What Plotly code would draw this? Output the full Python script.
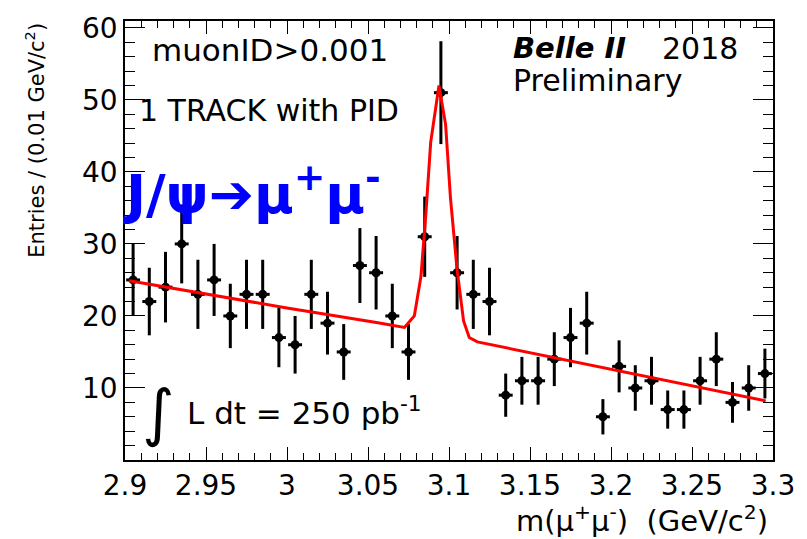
import plotly.graph_objects as go

# Bin centres (GeV/c^2), 0.01 GeV bins
mass = [2.905, 2.915, 2.925, 2.935, 2.945, 2.955, 2.965, 2.975, 2.985, 2.995,
        3.005, 3.015, 3.025, 3.035, 3.045, 3.055, 3.065, 3.075, 3.085, 3.095,
        3.105, 3.115, 3.125, 3.135, 3.145, 3.155, 3.165, 3.175, 3.185, 3.195,
        3.205, 3.215, 3.225, 3.235, 3.245, 3.255, 3.265, 3.275, 3.285, 3.295]
entries = [25, 22, 24, 30, 23, 25, 20, 23, 23, 17,
           16, 23, 19, 15, 27, 26, 20, 15, 31, 51,
           26, 23, 22, 9, 11, 11, 14, 17, 19, 6,
           13, 10, 11, 7, 7, 11, 14, 8, 10, 12]
errors = [5.0, 4.69, 4.90, 5.48, 4.80, 5.0, 4.47, 4.80, 4.80, 4.12,
          4.0, 4.80, 4.36, 3.87, 5.20, 5.10, 4.47, 3.87, 5.57, 7.14,
          5.10, 4.80, 4.69, 3.0, 3.32, 3.32, 3.74, 4.12, 4.36, 2.45,
          3.61, 3.16, 3.32, 2.65, 2.65, 3.32, 3.74, 2.83, 3.16, 3.46]
half_bin = [0.0043] * len(mass)

# Fit curve vertices
fit_x = [2.9026, 3.000, 3.0552, 3.0725, 3.0786, 3.0827, 3.0857, 3.0887, 3.0938,
         3.0979, 3.1009, 3.1050, 3.1090, 3.1125, 3.1175, 3.2955]
fit_y = [24.9, 21.1, 19.1, 18.4, 20.0, 25.5, 34.1, 44.1, 52.0,
         46.6, 36.4, 26.4, 19.3, 17.0, 16.4, 8.2]

x_tickvals = [2.9, 2.95, 3.0, 3.05, 3.1, 3.15, 3.2, 3.25, 3.3]
x_ticktext = ["2.9", "2.95", "3", "3.05", "3.1", "3.15", "3.2", "3.25", "3.3"]
y_tickvals = [0, 10, 20, 30, 40, 50, 60]
y_ticktext = ["", "10", "20", "30", "40", "50", "60"]

FONT = "DejaVu Sans"

fig = go.Figure()
fig.add_trace(go.Scatter(
    x=mass, y=entries, mode="markers",
    marker=dict(symbol="circle", size=9, color="black"),
    error_y=dict(type="data", array=errors, visible=True, color="black", thickness=3, width=0),
    error_x=dict(type="data", array=half_bin, visible=True, color="black", thickness=3, width=0),
    showlegend=False, hoverinfo="x+y"))
fig.add_trace(go.Scatter(
    x=fit_x, y=fit_y, mode="lines",
    line=dict(color="#ff0000", width=3),
    showlegend=False))

axis_common = dict(showline=True, linecolor="black", linewidth=1.5, mirror="allticks",
                   ticks="inside", tickcolor="black", showgrid=False, zeroline=False,
                   tickfont=dict(family=FONT, size=28, color="black"))

fig.update_xaxes(range=[2.9, 3.3], tickmode="array", tickvals=x_tickvals, ticktext=x_ticktext,
                 ticklen=13, tickwidth=1.2,
                 minor=dict(tickmode="linear", tick0=2.9, dtick=0.01, ticks="inside",
                            ticklen=7, tickcolor="black", tickwidth=1.2),
                 **axis_common)
fig.update_yaxes(range=[0, 60.95], tickmode="array", tickvals=y_tickvals, ticktext=y_ticktext,
                 ticklen=20, tickwidth=1.2,
                 minor=dict(tickmode="linear", tick0=0, dtick=2, ticks="inside",
                            ticklen=10, tickcolor="black", tickwidth=1.2),
                 **axis_common)

def px_x(p):
    return (p - 125) / 657.0

def px_y(p):
    return (460 - p) / 447.0

ann = []
ann.append(dict(text="muonID>0.001", x=px_x(150), y=px_y(43), xanchor="left", yanchor="middle",
                font=dict(family=FONT, size=31, color="black")))
ann.append(dict(text="1 TRACK with PID", x=px_x(137), y=px_y(104), xanchor="left", yanchor="middle",
                font=dict(family=FONT, size=30, color="black")))
ann.append(dict(text="<b>J/ψ➔μ<sup>+</sup>μ<sup>-</sup></b>", x=px_x(120), y=px_y(186),
                xanchor="left", yanchor="middle",
                font=dict(family=FONT, size=54, color="#0000ff")))
ann.append(dict(text="<b><i>Belle II</i></b>", x=px_x(516), y=px_y(41), xanchor="left", yanchor="middle",
                font=dict(family=FONT, size=29, color="black")))
ann.append(dict(text="2018", x=px_x(667), y=px_y(41), xanchor="left", yanchor="middle",
                font=dict(family=FONT, size=30, color="black")))
ann.append(dict(text="Preliminary", x=px_x(516), y=px_y(74), xanchor="left", yanchor="middle",
                font=dict(family=FONT, size=30, color="black")))
ann.append(dict(text="∫", x=px_x(158), y=px_y(412), xanchor="center", yanchor="middle",
                font=dict(family=FONT, size=62, color="black")))
ann.append(dict(text="L dt = 250 pb<sup>-1</sup>", x=px_x(186), y=px_y(410), xanchor="left", yanchor="middle",
                font=dict(family=FONT, size=31, color="black")))
ann.append(dict(text="Entries / (0.01 GeV/c<sup>2</sup>)", x=px_x(33), y=px_y(13), textangle=-90,
                xanchor="center", yanchor="top",
                font=dict(family=FONT, size=21, color="black")))
ann.append(dict(text="m(μ<sup>+</sup>μ<sup>-</sup>)  (GeV/c<sup>2</sup>)", x=px_x(779), y=px_y(520),
                xanchor="right", yanchor="middle",
                font=dict(family=FONT, size=29, color="black")))
for a in ann:
    a.update(xref="paper", yref="paper", showarrow=False)

fig.update_layout(
    width=807, height=539,
    margin=dict(l=125, r=25, t=13, b=79),
    paper_bgcolor="white", plot_bgcolor="white",
    annotations=ann,
)

fig.write_html("out.html")
